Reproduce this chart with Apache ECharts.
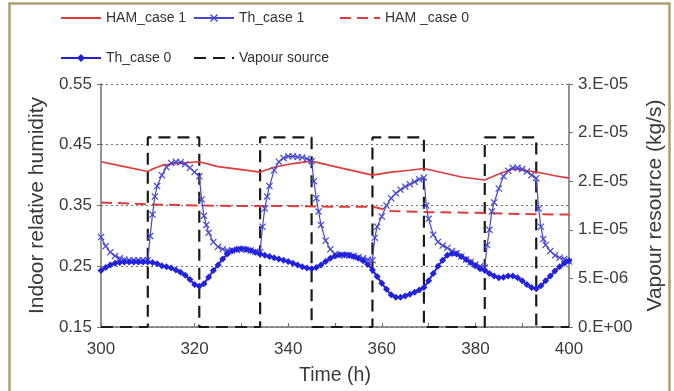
<!DOCTYPE html>
<html>
<head>
<meta charset="utf-8">
<script src="https://cdn.jsdelivr.net/npm/echarts@6/dist/echarts.min.js"></script>
<style>
  html, body { margin: 0; padding: 0; background: #ffffff; }
  #chart { width: 674px; height: 391px; }
</style>
</head>
<body>
<div id="chart"></div>
<script>
// Indoor relative humidity (left axis) and vapour source (right axis) over time

// HAM model, case 1 (solid red)
const hamCase1Hours  = [300, 305, 310, 311, 313, 316, 321, 325, 330, 334, 337, 341, 345, 350, 354, 358, 362, 366, 369, 373, 377, 382, 385, 388, 393, 397, 400];
const hamCase1Values = [0.422, 0.414, 0.406, 0.410, 0.416, 0.419, 0.422, 0.414, 0.409, 0.405, 0.413, 0.419, 0.423, 0.414, 0.407, 0.400, 0.405, 0.408, 0.411, 0.404, 0.397, 0.392, 0.402, 0.410, 0.405, 0.399, 0.395];

// HAM model, case 0 (dashed red)
const hamCase0Hours  = [300, 310, 320, 330, 340, 350, 358, 362, 370, 380, 390, 400];
const hamCase0Values = [0.355, 0.352, 0.350, 0.349, 0.349, 0.348, 0.348, 0.341, 0.339, 0.338, 0.336, 0.335];

// Thermal model, case 1 (x markers)
const thCase1Hours = [
  300, 301, 302, 303, 304, 305, 306, 307, 308, 309, 310, 310.5, 311, 311.5, 312, 313, 314, 315, 316, 317, 318, 319, 320, 321,
  321.5, 322, 322.5, 323, 324, 325, 326, 327, 328, 329, 330, 331, 332, 333, 334, 334.5, 335, 335.5, 336, 337, 338, 339, 340,
  341, 342, 343, 344, 345, 345.5, 346, 346.5, 347, 348, 349, 350, 351, 352, 353, 354, 355, 356, 357, 358, 358.5, 359, 360,
  361, 362, 363, 364, 365, 366, 367, 368, 369, 369.5, 370, 371, 372, 373, 374, 375, 376, 377, 378, 379, 380, 381, 382,
  382.5, 383, 383.5, 384, 385, 386, 387, 388, 389, 390, 391, 392, 393, 393.5, 394, 394.5, 395, 396, 397, 398, 399, 400
];
const thCase1Values = [
  0.298, 0.283, 0.273, 0.267, 0.263, 0.261, 0.260, 0.260, 0.260, 0.260, 0.260, 0.300, 0.335, 0.365, 0.382, 0.400, 0.413, 0.420, 0.422, 0.421, 0.418, 0.412, 0.405, 0.398,
  0.360, 0.333, 0.318, 0.305, 0.290, 0.282, 0.278, 0.276, 0.276, 0.277, 0.278, 0.277, 0.276, 0.274, 0.273, 0.315, 0.345, 0.365, 0.382, 0.408, 0.422, 0.428, 0.431,
  0.431, 0.430, 0.429, 0.427, 0.423, 0.390, 0.362, 0.340, 0.318, 0.292, 0.278, 0.270, 0.268, 0.268, 0.268, 0.267, 0.265, 0.263, 0.261, 0.260, 0.297, 0.315, 0.332,
  0.350, 0.362, 0.370, 0.376, 0.381, 0.385, 0.389, 0.393, 0.396, 0.350, 0.328, 0.302, 0.290, 0.284, 0.280, 0.275, 0.272, 0.266, 0.261, 0.257, 0.253, 0.250, 0.248,
  0.285, 0.310, 0.340, 0.355, 0.378, 0.398, 0.407, 0.412, 0.412, 0.410, 0.406, 0.400, 0.395, 0.345, 0.315, 0.295, 0.285, 0.275, 0.268, 0.264, 0.262, 0.258
];

// Thermal model, case 0 (diamond markers), hourly from 300 h
const thCase0Hours = [];
for (let h = 300; h <= 400; h++) thCase0Hours.push(h);
const thCase0Values = [
  0.243, 0.248, 0.252, 0.255, 0.256, 0.257, 0.257, 0.257, 0.257, 0.257,
  0.257, 0.256, 0.254, 0.251, 0.249, 0.247, 0.244, 0.240, 0.235, 0.228,
  0.220, 0.217, 0.221, 0.232, 0.243, 0.252, 0.262, 0.270, 0.275, 0.278,
  0.279, 0.278, 0.276, 0.273, 0.270, 0.268, 0.266, 0.264, 0.262, 0.260,
  0.258, 0.255, 0.252, 0.249, 0.247, 0.246, 0.248, 0.252, 0.258, 0.263,
  0.267, 0.269, 0.269, 0.268, 0.266, 0.263, 0.259, 0.253, 0.244, 0.233,
  0.222, 0.212, 0.203, 0.199, 0.199, 0.201, 0.204, 0.207, 0.211, 0.215,
  0.226, 0.238, 0.250, 0.260, 0.268, 0.271, 0.270, 0.266, 0.261, 0.256,
  0.251, 0.246, 0.243, 0.238, 0.234, 0.231, 0.232, 0.234, 0.234, 0.231,
  0.226, 0.220, 0.215, 0.213, 0.218, 0.226, 0.234, 0.242, 0.249, 0.255,
  0.259
];

// Vapour source (kg/s), on/off schedule
const vapourHours  = [300, 310, 310, 321, 321, 334, 334, 345, 345, 358, 358, 369, 369, 382, 382, 393, 393, 400];
const vapourValues = [0, 0, 1.95e-5, 1.95e-5, 0, 0, 1.95e-5, 1.95e-5, 0, 0, 1.95e-5, 1.95e-5, 0, 0, 1.95e-5, 1.95e-5, 0, 0];

// Axis tick labels
const rhTickLabels     = ['0.15', '0.25', '0.35', '0.45', '0.55'];
const vapourTickLabels = ['0.E+00', '5.E-06', '1.E-05', '2.E-05', '2.E-05', '3.E-05'];
const timeTickLabels   = ['300', '320', '340', '360', '380', '400'];

const pairs = (xs, ys) => xs.map((x, i) => [x, ys[i]]);

const FONT = 'Liberation Sans, Arial, sans-serif';
const TEXT = '#3a3a3a';
const AXIS = '#707070';
const BLUE1 = '#4646d2';
const BLUE0 = '#2222dd';
const RED = '#e23a3a';

const xSymbol = 'path://M0,1.2L1.2,0L5,3.8L8.8,0L10,1.2L6.2,5L10,8.8L8.8,10L5,6.2L1.2,10L0,8.8L3.8,5Z';

const legendText = { fontFamily: FONT, fontSize: 14, color: '#333' };
// plain line entries: hide the point glyph in the legend icon
const plainIcon = { color: 'rgba(0,0,0,0)', borderColor: 'rgba(0,0,0,0)', borderWidth: 0 };

const chart = echarts.init(document.getElementById('chart'), null, { renderer: 'canvas' });

chart.setOption({
  backgroundColor: '#ffffff',
  animation: false,
  graphic: [{
    type: 'rect',
    shape: { x: 9.5, y: 3.5, width: 660, height: 420 },
    style: { fill: 'none', stroke: '#aaa070', lineWidth: 2.5 },
    silent: true
  }],
  legend: [
    { left: 55, top: 6, data: [{ name: 'HAM_case 1', itemStyle: plainIcon }] },
    { left: 188, top: 6, data: ['Th_case 1'] },
    { left: 334, top: 6, data: [{ name: 'HAM _case 0', itemStyle: plainIcon }] },
    { left: 55, top: 46, data: ['Th_case 0'] },
    { left: 188, top: 46, data: [{ name: 'Vapour source', itemStyle: plainIcon }] }
  ].map(l => Object.assign({
    itemWidth: 40, itemHeight: 10, itemGap: 2,
    textStyle: legendText,
    selectedMode: false
  }, l)),
  grid: { left: 101, right: 102, top: 84, bottom: 60, containLabel: false },
  xAxis: {
    type: 'value',
    min: 300, max: 400, interval: 10,
    name: 'Time (h)',
    nameLocation: 'middle',
    nameGap: 39,
    nameTextStyle: { fontFamily: FONT, fontSize: 19.5, color: TEXT },
    axisLine: { lineStyle: { color: AXIS, width: 1.5 } },
    axisTick: { show: true, inside: true, length: 4, lineStyle: { color: AXIS } },
    axisLabel: {
      fontFamily: FONT, fontSize: 17, color: TEXT, margin: 14,
      formatter: v => {
        const i = timeTickLabels.indexOf(String(Math.round(v)));
        return i >= 0 ? timeTickLabels[i] : '';
      }
    },
    splitLine: { show: false }
  },
  yAxis: [
    {
      type: 'value',
      min: 0.15, max: 0.55, interval: 0.1,
      position: 'left',
      name: 'Indoor relative humidity',
      nameLocation: 'middle',
      nameGap: 53,
      nameTextStyle: { fontFamily: FONT, fontSize: 21, color: TEXT },
      axisLine: { show: true, lineStyle: { color: AXIS, width: 1.5 } },
      axisTick: { show: true, length: 4, lineStyle: { color: AXIS } },
      axisLabel: {
        fontFamily: FONT, fontSize: 17, color: TEXT, margin: 9,
        formatter: v => rhTickLabels[Math.round((v - 0.15) / 0.1)] || ''
      },
      splitLine: { show: true, lineStyle: { color: '#707070', type: [2, 3], width: 1.2 } }
    },
    {
      type: 'value',
      min: 0, max: 2.5e-5, interval: 5e-6,
      position: 'right',
      name: 'Vapour resource (kg/s)',
      nameLocation: 'middle',
      nameGap: 76,
      nameTextStyle: { fontFamily: FONT, fontSize: 21, color: TEXT },
      axisLine: { show: true, lineStyle: { color: AXIS, width: 1.5 } },
      axisTick: { show: true, length: 4, lineStyle: { color: AXIS } },
      axisLabel: {
        fontFamily: FONT, fontSize: 17, color: TEXT, margin: 9,
        formatter: v => vapourTickLabels[Math.round(v / 5e-6)] || ''
      },
      splitLine: { show: false }
    }
  ],
  series: [
    {
      name: 'HAM_case 1',
      type: 'line',
      data: pairs(hamCase1Hours, hamCase1Values),
      showSymbol: false, symbol: 'none',
      lineStyle: { color: RED, width: 1.6 },
      itemStyle: { color: RED },
      z: 3
    },
    {
      name: 'Th_case 1',
      type: 'line',
      data: pairs(thCase1Hours, thCase1Values),
      symbol: xSymbol, symbolSize: 7, showAllSymbol: true,
      lineStyle: { color: BLUE1, width: 1.2 },
      itemStyle: { color: BLUE1 },
      z: 4
    },
    {
      name: 'HAM _case 0',
      type: 'line',
      data: pairs(hamCase0Hours, hamCase0Values),
      showSymbol: false, symbol: 'none',
      lineStyle: { color: RED, width: 2, type: [11, 6] },
      itemStyle: { color: RED },
      z: 3
    },
    {
      name: 'Th_case 0',
      type: 'line',
      data: pairs(thCase0Hours, thCase0Values),
      symbol: 'diamond', symbolSize: 7, showAllSymbol: true,
      lineStyle: { color: BLUE0, width: 2 },
      itemStyle: { color: BLUE0 },
      z: 4
    },
    {
      name: 'Vapour source',
      type: 'line',
      yAxisIndex: 1,
      data: pairs(vapourHours, vapourValues),
      showSymbol: false, symbol: 'none',
      lineStyle: { color: '#1a1a1a', width: 2.2, type: [12, 7] },
      itemStyle: { color: '#1a1a1a' },
      z: 2
    }
  ]
});
</script>
</body>
</html>
